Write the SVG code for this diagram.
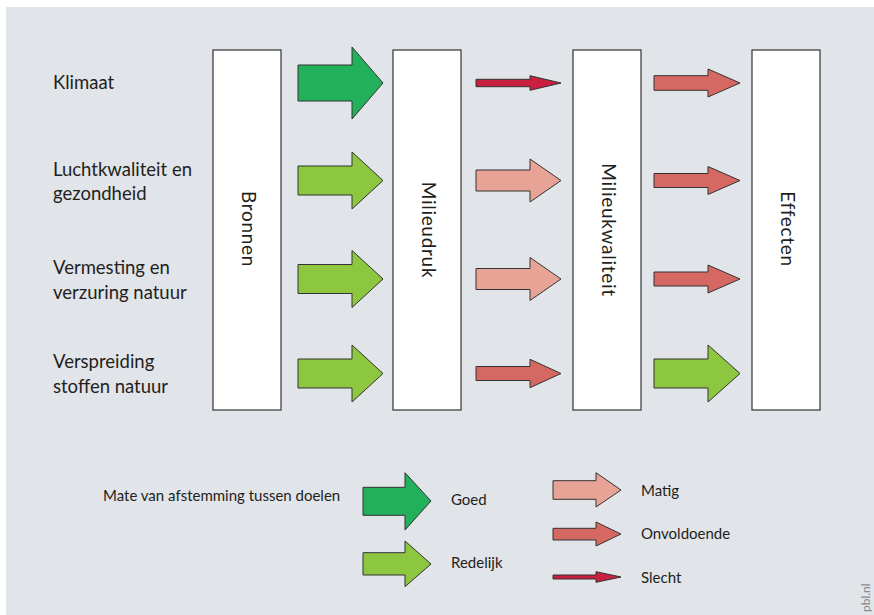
<svg xmlns="http://www.w3.org/2000/svg" width="874" height="615" viewBox="0 0 874 615">
<style>
.lbl{font-family:Lato,"Open Sans","Liberation Sans",sans-serif;font-size:18.5px;fill:#231f20}
.rot{font-family:Lato,"Open Sans","Liberation Sans",sans-serif;font-size:19px;letter-spacing:0.7px;fill:#231f20}
.lg{font-family:Lato,"Open Sans","Liberation Sans",sans-serif;font-size:15px;fill:#231f20}
.box{fill:#fff;stroke:#333;stroke-width:1.2}
.ar{stroke:#333;stroke-width:1;stroke-linejoin:miter}
.goed{fill:#22b05a}.red{fill:#8dc63f}.mat{fill:#e8a397}.onv{fill:#d66863}.sle{fill:#c8203e}
</style>
<rect x="0" y="0" width="874" height="615" fill="#fff"/>
<rect x="6" y="7" width="868" height="608" fill="#e1e4e9"/>
<g id="labels">
<text class="lbl" x="53" y="89">Klimaat</text>
<text class="lbl" x="53" y="176">Luchtkwaliteit en</text>
<text class="lbl" x="53" y="200">gezondheid</text>
<text class="lbl" x="53" y="274">Vermesting en</text>
<text class="lbl" x="53" y="299">verzuring natuur</text>
<text class="lbl" x="53" y="368">Verspreiding</text>
<text class="lbl" x="53" y="393">stoffen natuur</text>
</g>
<g id="bronnen"><rect class="box" x="213" y="50" width="68" height="360"/><text class="rot" transform="translate(242,229) rotate(90)" text-anchor="middle">Bronnen</text></g>
<g id="milieudruk"><rect class="box" x="393" y="50" width="68" height="360"/><text class="rot" transform="translate(422,230) rotate(90)" text-anchor="middle">Milieudruk</text></g>
<g id="milieukwaliteit"><rect class="box" x="573" y="50" width="68" height="360"/><text class="rot" transform="translate(602,230) rotate(90)" text-anchor="middle">Milieukwaliteit</text></g>
<g id="effecten"><rect class="box" x="752" y="50" width="68" height="360"/><text class="rot" transform="translate(781,229) rotate(90)" text-anchor="middle">Effecten</text></g>
<g id="connectors">
<path class="ar goed" d="M298,65 H352 V47 L383,83 L352,119 V101 H298 Z"/>
<path class="ar red" d="M298,166 H352 V152 L383,180.5 L352,209 V195 H298 Z"/>
<path class="ar red" d="M298,264.5 H352 V250.5 L383,279 L352,307.5 V293.5 H298 Z"/>
<path class="ar red" d="M298,359 H352 V345 L383,373.5 L352,402 V388 H298 Z"/>
<path class="ar sle" d="M476,79.3 H530 V75.7 L561,83 L530,90.3 V86.7 H476 Z"/>
<path class="ar mat" d="M476,170 H530 V159 L561,180.5 L530,202 V191 H476 Z"/>
<path class="ar mat" d="M476,268.5 H530 V257.5 L561,279 L530,300.5 V289.5 H476 Z"/>
<path class="ar onv" d="M476,366.5 H530 V359.3 L561,373.5 L530,387.7 V380.5 H476 Z"/>
<path class="ar onv" d="M654,75.7 H708 V69 L740,83 L708,97 V90.3 H654 Z"/>
<path class="ar onv" d="M654,173.5 H708 V166.5 L740,180.5 L708,194.5 V187.5 H654 Z"/>
<path class="ar onv" d="M654,272 H708 V265 L740,279 L708,293 V286 H654 Z"/>
<path class="ar red" d="M654,359 H708 V345 L740,373.5 L708,402 V388 H654 Z"/>
</g>
<g id="legend">
<text class="lg" x="103" y="501">Mate van afstemming tussen doelen</text>
<path class="ar goed" d="M363,487.3 H405 V472.7 L431,501 L405,530 V515.3 H363 Z"/>
<text class="lg" x="451" y="505">Goed</text>
<path class="ar red" d="M363,552.7 H405 V541 L431,564 L405,586.7 V575 H363 Z"/>
<text class="lg" x="451" y="568">Redelijk</text>
<path class="ar mat" d="M553,480.7 H596 V472.7 L621,490 L596,507 V499.3 H553 Z"/>
<text class="lg" x="641" y="496">Matig</text>
<path class="ar onv" d="M553,528.3 H596 V522 L621,534 L596,546 V540 H553 Z"/>
<text class="lg" x="641" y="539">Onvoldoende</text>
<path class="ar sle" d="M553,575 H596 V571.7 L621,577 L596,582.3 V579 H553 Z"/>
<text class="lg" x="641" y="582.5">Slecht</text>
</g>
<text transform="translate(870,612) rotate(-90)" font-family="Lato,'Liberation Sans',sans-serif" font-size="12" fill="#8a8c90">pbl.nl</text>
</svg>
